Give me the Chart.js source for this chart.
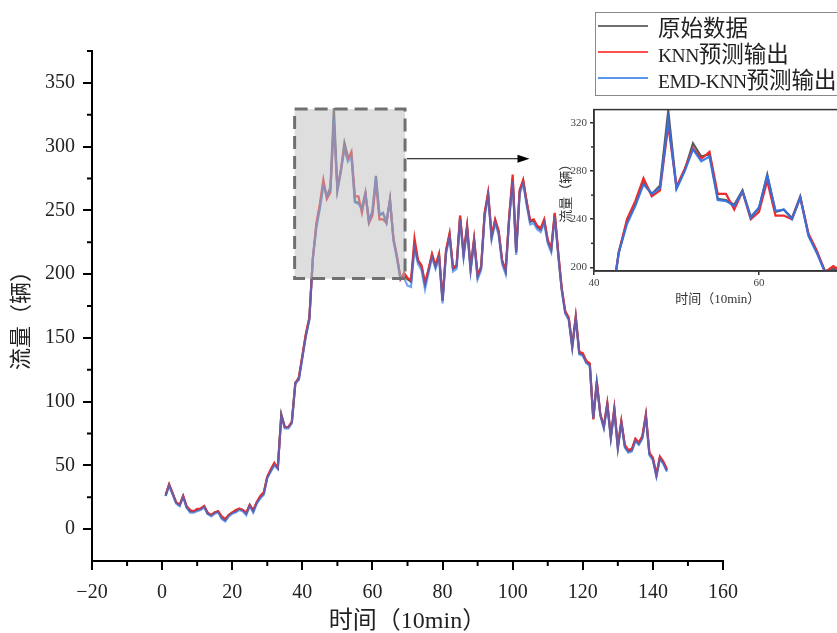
<!DOCTYPE html>
<html>
<head>
<meta charset="utf-8">
<script src="https://cdn.jsdelivr.net/npm/chart.js@4.4.1/dist/chart.umd.min.js"></script>
<style>
  html, body { margin: 0; padding: 0; background: #fff; overflow: hidden; }
  #wrap { position: relative; width: 837px; height: 633px; overflow: hidden; }
  #mainChart { position: absolute; left: 0; top: 0; }
  #insetChart { position: absolute; left: 540px; top: 100px; }
  #legend {
    position: absolute; left: 595px; top: 12px; width: 241px; height: 82px;
    border: 1px solid #888; background: #fff;
    font-family: 'Liberation Serif', 'Noto Sans CJK SC', serif; font-size: 22.5px; color: #222;
  }
  .row { position: absolute; left: 0; height: 26px; display: flex; align-items: center; white-space: nowrap; }
  .swatch { display: inline-block; width: 50px; height: 0; border-top: 2px solid; margin-left: 2px; margin-right: 10px; }
  .lat { font-size: 19.5px; letter-spacing: -0.5px; }
</style>
</head>
<body>
<div id="wrap">
  <canvas id="mainChart" width="837" height="633"></canvas>
  <canvas id="insetChart" width="320" height="215"></canvas>
  <div id="legend">
    <div class="row" style="top:0px"><span class="swatch" style="border-color:#707070"></span><span>原始数据</span></div>
    <div class="row" style="top:26px"><span class="swatch" style="border-color:rgb(255,80,80)"></span><span><span class="lat">KNN</span>预测输出</span></div>
    <div class="row" style="top:52px"><span class="swatch" style="border-color:rgb(90,150,235)"></span><span><span class="lat">EMD-KNN</span>预测输出</span></div>
  </div>
</div>
<script>
// x positions: one sample every 10 minutes, steps 1..144
const timeSteps = Array.from({ length: 144 }, (_, i) => i + 1);

const rawFlow = [
  26, 35, 28, 21, 19, 26, 17, 14, 14, 15,
  16, 18, 12, 11, 13, 14, 9, 7, 11, 13,
  14, 16, 15, 12, 19, 14, 21, 25, 28, 41,
  46, 51, 48, 90, 80, 80, 84, 115, 118, 135,
  152, 165, 213, 238, 253, 271, 261, 268, 330, 266,
  281, 303, 292, 294, 257, 256, 252, 264, 242, 249,
  277, 246, 248, 241, 259, 227, 213, 197, 199, 196,
  194, 223, 210, 206, 192, 203, 215, 206, 215, 179,
  218, 231, 204, 206, 245, 215, 237, 204, 227, 198,
  205, 247, 263, 229, 242, 233, 210, 202, 244, 275,
  217, 265, 273, 256, 241, 242, 237, 235, 242, 226,
  219, 247, 216, 188, 170, 165, 143, 166, 138, 137,
  131, 129, 87, 115, 90, 80, 98, 72, 94, 64,
  84, 65, 61, 62, 70, 67, 72, 89, 59, 55,
  42, 56, 52, 46
];

const knnFlow = [
  27, 35, 28, 21, 19, 26, 18, 15, 14, 16,
  16, 18, 13, 11, 13, 14, 10, 8, 11, 13,
  15, 16, 15, 13, 19, 15, 21, 26, 29, 41,
  47, 52, 48, 89, 80, 80, 84, 114, 119, 136,
  153, 166, 212, 240, 255, 274, 259, 264, 318, 267,
  282, 299, 290, 296, 261, 261, 248, 263, 240, 246,
  272, 243, 243, 240, 258, 228, 214, 196, 201, 197,
  195, 228, 211, 207, 193, 204, 216, 207, 216, 180,
  219, 232, 205, 207, 246, 216, 238, 205, 228, 199,
  206, 248, 264, 230, 243, 234, 211, 203, 245, 278,
  218, 266, 274, 257, 242, 243, 238, 236, 243, 227,
  220, 248, 217, 189, 171, 166, 144, 167, 139, 138,
  132, 130, 86, 116, 90, 81, 99, 73, 95, 65,
  85, 66, 62, 63, 71, 68, 73, 90, 60, 56,
  43, 57, 53, 47
];

const emdKnnFlow = [
  26, 34, 27, 20, 18, 25, 17, 13, 13, 14,
  15, 17, 12, 10, 12, 13, 8, 6, 10, 12,
  13, 15, 14, 11, 18, 13, 20, 24, 27, 40,
  45, 50, 47, 89, 79, 79, 83, 114, 117, 134,
  151, 164, 212, 236, 251, 269, 261, 266, 322, 265,
  280, 298, 288, 292, 256, 255, 251, 263, 241, 250,
  276, 247, 248, 240, 258, 226, 212, 196, 197, 191,
  190, 220, 208, 203, 188, 201, 213, 204, 213, 177,
  216, 229, 202, 204, 243, 213, 235, 202, 225, 196,
  203, 245, 261, 227, 240, 231, 208, 200, 242, 273,
  215, 263, 271, 254, 239, 240, 235, 233, 240, 224,
  217, 245, 214, 187, 169, 164, 142, 165, 137, 136,
  130, 128, 87, 114, 89, 79, 97, 71, 93, 63,
  83, 64, 60, 61, 69, 66, 71, 88, 58, 54,
  41, 55, 51, 45
];

const xTicks = [-20, 0, 20, 40, 60, 80, 100, 120, 140, 160];
const xMinorTicks = [-10, 10, 30, 50, 70, 90, 110, 130, 150];
const yTicks = [0, 50, 100, 150, 200, 250, 300, 350];
const yMinorTicks = [25, 75, 125, 175, 225, 275, 325, 375];

const insetXTicks = [40, 60];
const insetYTicks = [200, 240, 280, 320];
const insetYMinorTicks = [220, 260, 300];

// zoomed region (data units) and arrow end
const zoomBox = { xMin: 37.8, xMax: 69.3, yMin: 196.5, yMax: 329.5 };
const arrowTo = { x: 104.8, y: 290.5 };

const serif = "'Liberation Serif', 'Noto Sans CJK SC', serif";
const toXY = vals => vals.map((v, i) => ({ x: timeSteps[i], y: v }));
const fmtTick = v => (v < 0 ? '\u2212' + Math.abs(v) : String(v));

function makeDatasets(width, blueAlpha) {
  return [
    { label: '原始数据', data: toXY(rawFlow), borderColor: '#5a5a5a', borderWidth: width, pointRadius: 0, tension: 0, order: 3 },
    { label: 'KNN预测输出', data: toXY(knnFlow), borderColor: 'rgb(235,45,45)', borderWidth: width, pointRadius: 0, tension: 0, order: 2 },
    { label: 'EMD-KNN预测输出', data: toXY(emdKnnFlow), borderColor: `rgba(45,115,230,${blueAlpha})`, borderWidth: width, pointRadius: 0, tension: 0, order: 1 }
  ];
}

// 1. Main chart decorations: minor ticks, zoom box, arrow, y title
const mainDecor = {
  id: 'mainDecor',
  afterDatasetsDraw(chart) {
    const { ctx, scales: { x, y } } = chart;
    ctx.save();
    ctx.strokeStyle = '#000';
    ctx.lineWidth = 2;
    xMinorTicks.forEach(v => {
      const px = x.getPixelForValue(v);
      ctx.beginPath(); ctx.moveTo(px, y.bottom); ctx.lineTo(px, y.bottom + 5); ctx.stroke();
    });
    yMinorTicks.forEach(v => {
      const py = y.getPixelForValue(v);
      ctx.beginPath(); ctx.moveTo(x.left, py); ctx.lineTo(x.left - 5, py); ctx.stroke();
    });

    const l = x.getPixelForValue(zoomBox.xMin), r = x.getPixelForValue(zoomBox.xMax);
    const t = y.getPixelForValue(zoomBox.yMax), b = y.getPixelForValue(zoomBox.yMin);
    ctx.fillStyle = 'rgba(190,190,190,0.5)';
    ctx.fillRect(l, t, r - l, b - t);
    ctx.setLineDash([13, 7]);
    ctx.lineWidth = 3;
    ctx.strokeStyle = '#707070';
    ctx.strokeRect(l, t, r - l, b - t);

    ctx.setLineDash([]);
    ctx.lineWidth = 1;
    ctx.strokeStyle = '#000';
    ctx.fillStyle = '#000';
    const ax = x.getPixelForValue(arrowTo.x), ay = y.getPixelForValue(arrowTo.y);
    ctx.beginPath(); ctx.moveTo(r + 2, ay); ctx.lineTo(ax - 10, ay); ctx.stroke();
    ctx.beginPath(); ctx.moveTo(ax, ay); ctx.lineTo(ax - 12, ay - 4); ctx.lineTo(ax - 12, ay + 4); ctx.closePath(); ctx.fill();

    ctx.translate(22, 315);
    ctx.rotate(-Math.PI / 2);
    ctx.font = "22px " + serif;
    ctx.fillStyle = '#222';
    ctx.textAlign = 'center';
    ctx.textBaseline = 'middle';
    ctx.fillText('流量（辆）', 0, 0);
    ctx.restore();
  }
};

new Chart(document.getElementById('mainChart'), {
  type: 'line',
  data: { datasets: makeDatasets(2.2, 0.65) },
  options: {
    responsive: false,
    animation: false,
    layout: { padding: { top: 51, right: 114, left: 0, bottom: 0 } },
    plugins: { legend: { display: false }, tooltip: { enabled: false } },
    scales: {
      x: {
        type: 'linear', min: -20, max: 160,
        afterBuildTicks: s => { s.ticks = xTicks.map(v => ({ value: v })); },
        afterFit: s => { s.height = 72; },
        border: { display: true, color: '#000', width: 2 },
        grid: { drawOnChartArea: false, drawTicks: true, tickLength: 9, color: '#000', lineWidth: 2 },
        ticks: { autoSkip: false, maxRotation: 0, padding: 11, color: '#222', font: { family: serif, size: 20 }, callback: fmtTick },
        title: { display: true, text: '时间（10min）', color: '#222', font: { family: serif, size: 24 }, padding: { top: 0, bottom: -3 } }
      },
      y: {
        type: 'linear', min: -25, max: 375,
        afterBuildTicks: s => { s.ticks = yTicks.map(v => ({ value: v })); },
        afterFit: s => { s.width = 92; },
        border: { display: true, color: '#000', width: 2 },
        grid: { drawOnChartArea: false, drawTicks: true, tickLength: 9, color: '#000', lineWidth: 2 },
        ticks: { autoSkip: false, padding: 8, color: '#222', font: { family: serif, size: 20 }, callback: fmtTick }
      }
    }
  },
  plugins: [mainDecor]
});

// 2. Inset chart (zoom of steps 40-70)
const insetDecor = {
  id: 'insetDecor',
  beforeDraw(chart) {
    const { ctx, chartArea: a } = chart;
    ctx.save();
    ctx.fillStyle = '#fff';
    ctx.fillRect(a.left, a.top, a.right - a.left, a.bottom - a.top);
    ctx.restore();
  },
  afterDraw(chart) {
    const { ctx, chartArea: a, scales: { y } } = chart;
    ctx.save();
    ctx.strokeStyle = '#333';
    ctx.lineWidth = 1.5;
    ctx.strokeRect(a.left, a.top, a.right - a.left, a.bottom - a.top);
    insetYMinorTicks.forEach(v => {
      const py = y.getPixelForValue(v);
      ctx.beginPath(); ctx.moveTo(a.left, py); ctx.lineTo(a.left - 3, py); ctx.stroke();
    });
    ctx.restore();
  }
};

new Chart(document.getElementById('insetChart'), {
  type: 'line',
  data: { datasets: makeDatasets(2.2, 0.9) },
  options: {
    responsive: false,
    animation: false,
    layout: { padding: { top: 9, right: 18.5, left: 0, bottom: 0 } },
    plugins: { legend: { display: false }, tooltip: { enabled: false } },
    scales: {
      x: {
        type: 'linear', min: 40, max: 70,
        afterBuildTicks: s => { s.ticks = insetXTicks.map(v => ({ value: v })); },
        afterFit: s => { s.height = 44; },
        border: { display: true, color: '#333', width: 1.5 },
        grid: { drawOnChartArea: false, drawTicks: true, tickLength: 4, color: '#333', lineWidth: 1.5 },
        ticks: { autoSkip: false, maxRotation: 0, padding: 2, color: '#444', font: { family: serif, size: 11 } },
        title: { display: true, text: '时间（10min）', color: '#333', font: { family: serif, size: 13 }, padding: { top: 0, bottom: 8 } }
      },
      y: {
        type: 'linear', min: 197, max: 331,
        afterBuildTicks: s => { s.ticks = insetYTicks.map(v => ({ value: v })); },
        afterFit: s => { s.width = 54; },
        border: { display: true, color: '#333', width: 1.5 },
        grid: { drawOnChartArea: false, drawTicks: true, tickLength: 4, color: '#333', lineWidth: 1.5 },
        ticks: { autoSkip: false, padding: 3, color: '#444', font: { family: serif, size: 11 } },
        title: { display: true, text: '流量（辆）', color: '#333', font: { family: serif, size: 13 }, padding: { top: 19, bottom: 0 } }
      }
    }
  },
  plugins: [insetDecor]
});
</script>
</body>
</html>
